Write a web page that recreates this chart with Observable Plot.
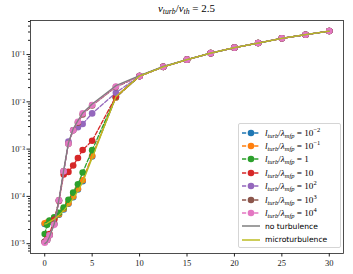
<!DOCTYPE html>
<html><head><meta charset="utf-8">
<script src="https://cdn.jsdelivr.net/npm/d3@7"></script>
<script src="https://cdn.jsdelivr.net/npm/@observablehq/plot@0.6"></script>
<style>
body{margin:0;background:#fff;}
#wrap{position:relative;width:353px;height:274px;overflow:hidden;}
#title{position:absolute;top:2px;left:30px;width:313px;text-align:center;font-family:"Liberation Serif",serif;font-size:11px;line-height:12px;}
#title i{font-style:italic;}
sub{font-size:70%;vertical-align:-2px;line-height:0;}
sup{font-size:70%;vertical-align:4px;line-height:0;}
#legend{position:absolute;left:238px;top:123px;width:103px;height:125px;border:1px solid #d5d5d5;border-radius:2px;background:rgba(255,255,255,0.85);box-sizing:border-box;}
.row{position:absolute;left:2px;height:13px;display:flex;align-items:center;white-space:nowrap;}
.row svg{flex:none;margin-right:4px;}
.m{font-family:"Liberation Serif",serif;font-size:9.2px;}
.s{font-family:"DejaVu Sans",sans-serif;font-size:7.6px;}
</style>
</head><body>
<div id="wrap"><div id="title"><i>v</i><sub><i>turb</i></sub>/<i>v</i><sub><i>th</i></sub> = 2.5</div></div>
<script>
// ---- data ----
const xs = [0, 0.25, 0.5, 1, 1.5, 2, 2.5, 3, 3.5, 4, 5, 7.5, 10, 12.5, 15, 17.5, 20, 22.5, 25, 27.5, 30];
const lturb_1em2 = [2.6e-5, 2.7e-5, 2.9e-5, 3.4e-5, 4.1e-5, 5.3e-5, 7.0e-5, 9.6e-5, 1.4e-4, 2.1e-4, 7.0e-4, 0.0124, 0.035, 0.055, 0.078, 0.107, 0.14, 0.175, 0.22, 0.263, 0.314];
const lturb_1em1 = [2.7e-5, 2.8e-5, 3.0e-5, 3.5e-5, 4.2e-5, 5.5e-5, 7.2e-5, 1.0e-4, 1.45e-4, 2.2e-4, 7.2e-4, 0.0124, 0.035, 0.055, 0.078, 0.107, 0.14, 0.175, 0.22, 0.263, 0.314];
const lturb_1 = [1.6e-5, 2.5e-5, 3.1e-5, 3.6e-5, 4.5e-5, 5.8e-5, 8.5e-5, 1.2e-4, 1.8e-4, 3.2e-4, 9.5e-4, 0.0128, 0.035, 0.055, 0.078, 0.107, 0.14, 0.175, 0.22, 0.263, 0.314];
const lturb_10 = [1.1e-5, 1.25e-5, 1.6e-5, 3.2e-5, 8.0e-5, 2.9e-4, 3.3e-4, 4.5e-4, 6.5e-4, 9.6e-4, 1.5e-3, 0.013, 0.035, 0.055, 0.078, 0.107, 0.14, 0.175, 0.22, 0.263, 0.314];
const lturb_1e2 = [1.1e-5, 1.2e-5, 1.5e-5, 2.6e-5, 8.2e-5, 3.4e-4, 1.45e-3, 2.5e-3, 2.9e-3, 3.4e-3, 5.7e-3, 0.0156, 0.035, 0.055, 0.078, 0.107, 0.14, 0.175, 0.22, 0.263, 0.314];
const lturb_1e3 = [1.1e-5, 1.2e-5, 1.5e-5, 2.6e-5, 8.3e-5, 3.4e-4, 1.3e-3, 2.5e-3, 3.6e-3, 5.4e-3, 8.4e-3, 0.0205, 0.035, 0.055, 0.078, 0.107, 0.14, 0.175, 0.22, 0.263, 0.314];
const lturb_1e4 = [1.05e-5, 1.2e-5, 1.5e-5, 2.5e-5, 8.3e-5, 3.4e-4, 1.3e-3, 2.5e-3, 3.8e-3, 5.7e-3, 8.6e-3, 0.021, 0.035, 0.055, 0.078, 0.107, 0.14, 0.175, 0.22, 0.263, 0.314];
const noTurb = [1.0e-5, 1.1e-5, 1.4e-5, 2.6e-5, 8.5e-5, 3.6e-4, 1.35e-3, 2.7e-3, 4.0e-3, 5.8e-3, 9.0e-3, 0.022, 0.036, 0.056, 0.078, 0.107, 0.14, 0.175, 0.22, 0.263, 0.314];
const microTurb = [2.6e-5, 2.7e-5, 2.9e-5, 3.3e-5, 4.0e-5, 5.0e-5, 6.6e-5, 9.0e-5, 1.3e-4, 2.0e-4, 6.5e-4, 0.0128, 0.035, 0.055, 0.078, 0.107, 0.14, 0.175, 0.22, 0.263, 0.314];
const seriesExp = ["−2", "−1", "", "", "2", "3", "4"];
const xTicks = [0, 5, 10, 15, 20, 25, 30];
const yTicks = [1e-5, 1e-4, 1e-3, 1e-2, 1e-1];
const yTickLabels = ["10⁻⁵", "10⁻⁴", "10⁻³", "10⁻²", "10⁻¹"];

// ---- styles ----
const markerSeries = [lturb_1em2, lturb_1em1, lturb_1, lturb_10, lturb_1e2, lturb_1e3, lturb_1e4];
const colors = ["#1f77b4", "#ff7f0e", "#2ca02c", "#d62728", "#9467bd", "#8c564b", "#e377c2"];
const mainLabels = ["10", "10", "1", "10", "10", "10", "10"];

const minorTicks = [];
for (let e = -6; e <= -1; e++) for (let m = 2; m <= 9; m++) { const v = m * Math.pow(10, e); if (v > 6.2e-6 && v < 0.525) minorTicks.push(v); }

const toRows = arr => xs.map((x, i) => ({x, y: arr[i]}));
const marks = [];
markerSeries.forEach((s, k) => {
  const d = toRows(s);
  marks.push(Plot.line(d, {x: "x", y: "y", stroke: colors[k], strokeWidth: 1.3, strokeDasharray: "4.2,1.9"}));
  marks.push(Plot.dot(d, {x: "x", y: "y", fill: colors[k], r: 3.3}));
});
marks.push(Plot.line(toRows(noTurb), {x: "x", y: "y", stroke: "#7f7f7f", strokeWidth: 1.3}));
marks.push(Plot.line(toRows(microTurb), {x: "x", y: "y", stroke: "#bcbd22", strokeWidth: 1.3}));
marks.push(Plot.frame({stroke: "#222", strokeWidth: 0.8}));
marks.push(Plot.axisX({ticks: xTicks, tickSize: 3.5, tickPadding: 3, tickFormat: d => String(d), label: null}));
marks.push(Plot.axisY({ticks: yTicks, tickSize: 3.5, tickPadding: 2, tickFormat: d => yTickLabels[yTicks.indexOf(d)], label: null}));
marks.push(Plot.axisY({ticks: minorTicks, tickSize: 2, tickFormat: () => "", label: null}));

const chart = Plot.plot({
  width: 353, height: 274,
  marginLeft: 30, marginRight: 10, marginTop: 20, marginBottom: 21,
  x: {domain: [-1.5, 31.5]},
  y: {type: "log", domain: [6.2e-6, 0.525]},
  style: {fontFamily: "Liberation Serif, serif", fontSize: "8.5px", color: "#222", background: "white"},
  marks
});
const wrap = document.getElementById("wrap");
wrap.insertBefore(chart, wrap.firstChild);

// ---- legend ----
const leg = document.createElement("div");
leg.id = "legend";
const rowH = 13.4;
markerSeries.forEach((s, k) => {
  const r = document.createElement("div");
  r.className = "row";
  r.style.top = (2 + k * rowH) + "px";
  const exp = seriesExp[k];
  const rhs = exp ? `10<sup>${exp}</sup>` : mainLabels[k];
  r.innerHTML = `<svg width="20" height="10"><line x1="1" x2="19" y1="5" y2="5" stroke="${colors[k]}" stroke-width="1.3" stroke-dasharray="4.2,1.9"/><circle cx="10" cy="5" r="3.3" fill="${colors[k]}"/></svg><span class="m"><i>l</i><sub><i>turb</i></sub>/<i>λ</i><sub><i>mfp</i></sub> = ${rhs}</span>`;
  leg.appendChild(r);
});
[["no turbulence", "#7f7f7f"], ["microturbulence", "#bcbd22"]].forEach(([t, c], j) => {
  const r = document.createElement("div");
  r.className = "row";
  r.style.top = (2 + (7 + j) * rowH) + "px";
  r.innerHTML = `<svg width="20" height="10"><line x1="1" x2="19" y1="5" y2="5" stroke="${c}" stroke-width="1.5"/></svg><span class="s">${t}</span>`;
  leg.appendChild(r);
});
wrap.appendChild(leg);
</script>
</body></html>
